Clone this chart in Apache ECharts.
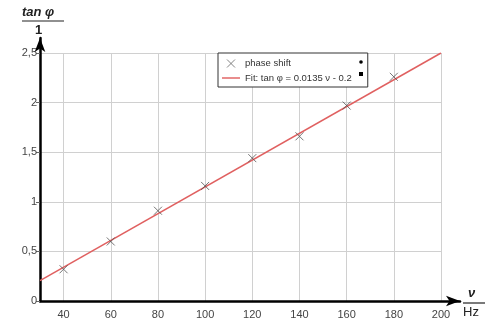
<!DOCTYPE html>
<html>
<head>
<meta charset="utf-8">
<script src="https://cdn.jsdelivr.net/npm/echarts@6/dist/echarts.min.js"></script>
<style>
    html, body { margin: 0; padding: 0; background: #fff; }
    #chart { width: 494px; height: 322px; }
</style>
</head>
<body>
<div id="chart"></div>
<script>
// measured points: frequency (Hz) and tan phi
var freq = [40, 60, 80, 100, 120, 140, 160, 180];
var tanPhi = [0.32, 0.60, 0.91, 1.16, 1.44, 1.66, 1.97, 2.26];
// fit line ends: tan phi = 0.0135 v - 0.2
var fitFreq = [30, 200];
var fitTan = [0.205, 2.5];
var seriesNames = ['phase shift', 'Fit: tan \u03c6 = 0.0135 \u03bd - 0.2'];

var myChart = echarts.init(document.getElementById('chart'));
var labelFont = { color: '#444', fontSize: 11, fontFamily: 'Arial, Liberation Sans, sans-serif' };
var titleFont = { fill: '#222', fontSize: 13, fontWeight: 'bold', fontStyle: 'italic', fontFamily: 'Arial, Liberation Sans, sans-serif' };

var option = {
    backgroundColor: '#fff',
    animation: false,
    grid: [
        { left: 40, right: 53, top: 53, bottom: 21 },
        // only carries the arrow axes
        { left: 40, right: 34, top: 38, bottom: 21 }
    ],
    xAxis: [{
        type: 'value',
        gridIndex: 0,
        min: 30,
        max: 200,
        splitNumber: 8,
        axisLine: { show: false },
        axisTick: { show: false },
        axisLabel: Object.assign({ margin: 8, showMinLabel: false }, labelFont),
        splitLine: { lineStyle: { color: '#d0d0d0', width: 1 } }
    }, {
        type: 'value',
        gridIndex: 1,
        min: 0,
        max: 1,
        axisLine: { show: true, symbol: ['none', 'arrow'], symbolSize: [8, 14], lineStyle: { color: '#000', width: 2.5 } },
        axisTick: { show: false },
        axisLabel: { show: false },
        splitLine: { show: false }
    }],
    yAxis: [{
        type: 'value',
        gridIndex: 0,
        min: 0,
        max: 2.5,
        interval: 0.5,
        axisLine: { show: false },
        axisTick: { show: true, length: 4, lineStyle: { color: '#666' } },
        axisLabel: Object.assign({
            margin: 3,
            formatter: function (v) { return String(v).replace('.', ','); }
        }, labelFont),
        splitLine: { lineStyle: { color: '#d0d0d0', width: 1 } }
    }, {
        type: 'value',
        gridIndex: 1,
        min: 0,
        max: 1,
        axisLine: { show: true, symbol: ['none', 'arrow'], symbolSize: [8, 14], lineStyle: { color: '#000', width: 2.5 } },
        axisTick: { show: false },
        axisLabel: { show: false },
        splitLine: { show: false }
    }],
    legend: {
        left: 218,
        top: 53,
        orient: 'vertical',
        padding: [4, 16, 4, 4],
        itemGap: 3,
        itemWidth: 18,
        itemHeight: 8,
        backgroundColor: '#fff',
        borderColor: '#333',
        borderWidth: 1,
        borderRadius: 0,
        textStyle: { color: '#333', fontSize: 9.5, fontFamily: 'Arial, Liberation Sans, sans-serif' },
        data: [
            { name: seriesNames[0], itemStyle: { color: 'none', borderColor: '#666', borderWidth: 1 } },
            { name: seriesNames[1], icon: 'path://M0,0H20V1.6H0Z' }
        ]
    },
    series: [{
        name: seriesNames[0],
        type: 'scatter',
        xAxisIndex: 0,
        yAxisIndex: 0,
        symbol: 'path://M0,0L10,10M10,0L0,10',
        symbolSize: 8,
        itemStyle: { color: 'none', borderColor: '#555', borderWidth: 1 },
        data: freq.map(function (f, i) { return [f, tanPhi[i]]; }),
        z: 3
    }, {
        name: seriesNames[1],
        type: 'line',
        xAxisIndex: 0,
        yAxisIndex: 0,
        symbol: 'none',
        lineStyle: { color: '#e06060', width: 1.5 },
        itemStyle: { color: '#e06060' },
        data: fitFreq.map(function (f, i) { return [f, fitTan[i]]; }),
        z: 2
    }],
    graphic: [
        // y axis title: tan phi / 1
        { type: 'text', left: 22, top: 6, style: Object.assign({ text: 'tan \u03c6' }, titleFont) },
        { type: 'line', shape: { x1: 22, y1: 21, x2: 64, y2: 21 }, style: { stroke: '#222', lineWidth: 1.2 } },
        { type: 'text', left: 35, top: 24, style: Object.assign({ text: '1' }, titleFont, { fontStyle: 'normal' }) },
        // x axis title: nu / Hz
        { type: 'text', left: 468, top: 287, style: Object.assign({ text: '\u03bd' }, titleFont) },
        { type: 'line', shape: { x1: 463, y1: 303, x2: 485, y2: 303 }, style: { stroke: '#222', lineWidth: 1.2 } },
        { type: 'text', left: 463, top: 306, style: Object.assign({ text: 'Hz' }, titleFont, { fontStyle: 'normal', fontWeight: 'normal' }) },
        // little markers at the right side of the legend box
        { type: 'circle', shape: { cx: 361, cy: 62, r: 1.8 }, style: { fill: '#000' }, z: 100 },
        { type: 'rect', shape: { x: 359, y: 72, width: 4, height: 4 }, style: { fill: '#000' }, z: 100 }
    ]
};

if (option && typeof option === "object") {
    myChart.setOption(option, true);
    window.onresize = myChart.resize;
}
</script>
</body>
</html>
